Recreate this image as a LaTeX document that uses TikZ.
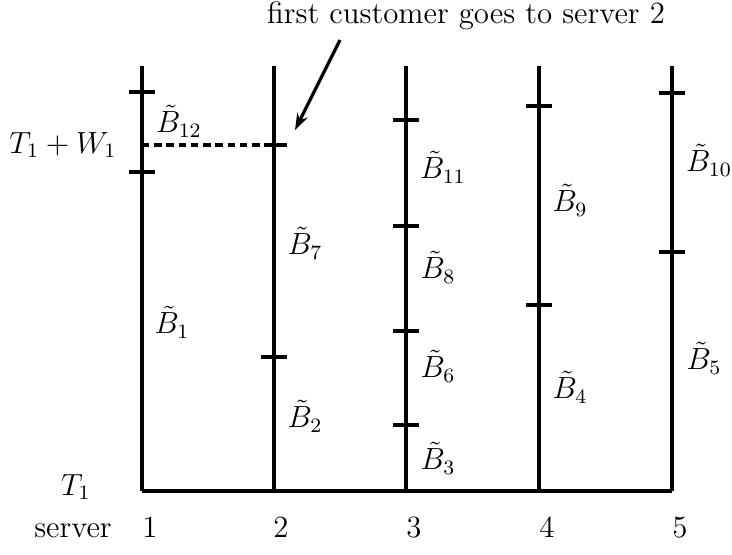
\documentclass[tikz,border=0pt]{standalone}
\usetikzlibrary{arrows.meta}
\begin{document}
\begin{tikzpicture}[x=0.392pt,y=-0.392pt,
  axis/.style={line width=1.3pt},
  tk/.style={line width=1.3pt},
  every node/.style={inner sep=0pt,font=\fontsize{12.1}{14.5}\selectfont}]
\useasboundingbox (0,0) rectangle (732,554);
% server lines
\foreach \i/\x in {1/142,2/274,3/406,4/539,5/672}{
  \coordinate (top\i) at (\x,66);
  \coordinate (bot\i) at (\x,491);
  \draw[axis] (top\i) -- (bot\i);
}
\draw[axis] (bot1) -- (bot5);
% ticks
\foreach \y in {92,172}{\draw[tk] (129,\y) -- (155,\y);}
\draw[tk] (261,357) -- (287,357);
\draw[tk] (274,145) -- (287,145);
\foreach \y in {120,226,331,425}{\draw[tk] (393,\y) -- (419,\y);}
\foreach \y in {106,305}{\draw[tk] (526,\y) -- (552,\y);}
\foreach \y in {93,252}{\draw[tk] (659,\y) -- (685,\y);}
% dashed
\coordinate (d1) at (142,145);
\coordinate (d2) at (274,145);
\draw[line width=1.3pt,dash pattern=on 2.9pt off 1.9pt] (d1) -- (d2);
% labels
\node (b12) at (179,121) {$\tilde B_{12}$};
\node (b1) at (172,322) {$\tilde B_{1}$};
\node (b7) at (305,243) {$\tilde B_{7}$};
\node (b2) at (305,416) {$\tilde B_{2}$};
\node (b11) at (443,167) {$\tilde B_{11}$};
\node (b8) at (438,267) {$\tilde B_{8}$};
\node (b6) at (438,366) {$\tilde B_{6}$};
\node (b3) at (438,458) {$\tilde B_{3}$};
\node (b9) at (570,200) {$\tilde B_{9}$};
\node (b4) at (570,387) {$\tilde B_{4}$};
\node (b10) at (709,160) {$\tilde B_{10}$};
\node (b5) at (704,358) {$\tilde B_{5}$};
\node (tw) at (63,145) {$T_1+W_1$};
\node (t1) at (76,487) {$T_1$};
\node[anchor=base] (srv) at (73,537) {server};
\foreach \i/\x in {1/150,2/281,3/414,4/547,5/680}{
  \node[anchor=base] (n\i) at (\x,537) {\i};
}
\node (ann) at (466,16) {first customer goes to server 2};
\coordinate (tip) at (295,130);
\draw[line width=1.3pt,-{Stealth[length=6.5pt,width=4.5pt]}] (340,40) -- (tip);
\end{tikzpicture}
\end{document}
